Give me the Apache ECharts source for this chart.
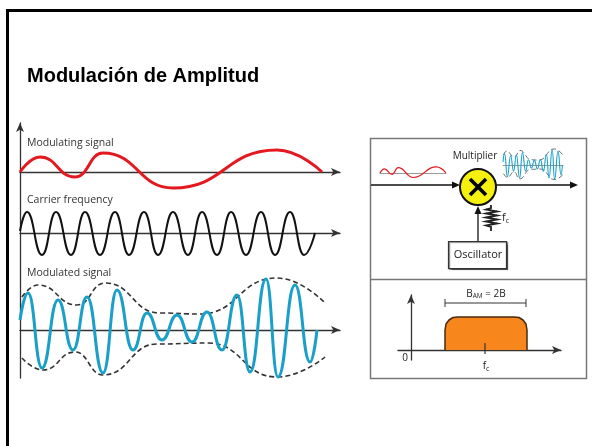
<!DOCTYPE html>
<html>
<head>
<meta charset="utf-8">
<script src="https://cdn.jsdelivr.net/npm/echarts@6/dist/echarts.min.js"></script>
<style>
html, body { margin: 0; background: #fff; }
#chart { width: 592px; height: 446px; }
</style>
</head>
<body>
<div id="chart"></div>
<script>
// señal moduladora: tiempo (px desde el eje) y amplitud
const modT = [0, 20, 55, 83, 153, 257, 302];
const modV = [0, 15, -5, 19, -16, 22, 0];

// portadora: crestas y valles
const carT = [0, 7, 22, 36, 51, 65, 80, 95, 109, 124, 138, 153, 168, 182, 197, 211, 226, 241, 255, 270, 284, 295];
const carV = [2, 21, -22, 21, -22, 21, -22, 21, -22, 21, -22, 21, -22, 21, -22, 21, -22, 21, -22, 21, -22, 0];

// señal modulada
const amT = [0, 8, 22, 38, 53, 67, 83, 97, 113, 127, 142, 157, 172, 187, 202, 217, 230, 246, 258, 275, 290, 297];
const amV = [10, 37, -38, 30, -20, 33, -43, 40, -20, 17, -10, 15, -12, 18, -20, 35, -42, 51, -47, 45, -32, 0];

// envolventes (línea discontinua)
const envUpT = [2, 18, 57, 85, 140, 180, 257, 305];
const envUpV = [33, 45, 25, 47, 17, 16, 52, 27];
const envLoT = [2, 23, 55, 83, 137, 188, 257, 305];
const envLoV = [-28, -40, -22, -45, -14, -13, -47, -27];

// espectro AM (banda alrededor de fc)
const specX = [34, 34, 35, 38, 42, 47, 103, 108, 112, 115, 116, 116];
const specY = [0, 20, 26, 30, 32.5, 33, 33, 32.5, 30, 26, 20, 0];
const fcX = 74;
const bamX = [34, 115];
const bamY = 47;

const pts = (t, v) => t.map((x, i) => [x, v[i]]);

const chart = echarts.init(document.getElementById('chart'));

const axisCol = '#333';
const hiddenY = (min, max, idx) => ({
    gridIndex: idx, type: 'value', min: min, max: max,
    axisLine: { show: false }, axisTick: { show: false },
    axisLabel: { show: false }, splitLine: { show: false }
});
const arrowX = (min, max, idx) => ({
    gridIndex: idx, type: 'value', min: min, max: max,
    axisLine: {
        onZero: true, symbol: ['none', 'arrow'], symbolSize: [6, 9],
        lineStyle: { color: axisCol, width: 1.3 }
    },
    axisTick: { show: false }, axisLabel: { show: false }, splitLine: { show: false }
});
const plainX = (min, max, idx) => ({
    gridIndex: idx, type: 'value', min: min, max: max,
    axisLine: { onZero: true, lineStyle: { color: '#999', width: 1 } },
    axisTick: { show: false }, axisLabel: { show: false }, splitLine: { show: false }
});
const wave = (name, data, idx, color, width, extra) => Object.assign({
    name: name, type: 'line', xAxisIndex: idx, yAxisIndex: idx,
    data: data, showSymbol: false, smooth: 0.5, smoothMonotone: 'x',
    lineStyle: { color: color, width: width }, silent: true
}, extra || {});
const dashed = (data, idx, width) => ({
    type: 'line', xAxisIndex: idx, yAxisIndex: idx, data: data,
    showSymbol: false, smooth: 0.5, smoothMonotone: 'x', silent: true,
    lineStyle: { color: '#333', width: width, type: [5, 3] }
});
const seg = (a, b, idx, w) => ({
    type: 'line', xAxisIndex: idx, yAxisIndex: idx, data: [a, b],
    showSymbol: false, silent: true, lineStyle: { color: '#333', width: w }
});
const arrowHead = (x, y, dir) => {
    let p;
    if (dir === 'right') p = [[x, y], [x - 8, y - 3.5], [x - 8, y + 3.5]];
    else p = [[x, y], [x - 3.5, y + 8], [x + 3.5, y + 8]];
    return { type: 'polygon', shape: { points: p }, style: { fill: '#111' } };
};
const txt = (x, y, text, font, align, extra) => ({
    type: 'text', x: x, y: y,
    style: Object.assign({ text: text, font: font, fill: '#222', align: align || 'left', verticalAlign: 'middle' }, extra || {})
});

const labelFont = '10.5px "Open Sans"';

chart.setOption({
    animation: false,
    grid: [
        { left: 20, top: 123, width: 10, height: 255 },
        { left: 20, top: 147, width: 320, height: 50 },
        { left: 20, top: 208, width: 320, height: 50 },
        { left: 20, top: 275, width: 320, height: 110 },
        { left: 380, top: 166, width: 66, height: 14 },
        { left: 503, top: 148, width: 60, height: 34 },
        { left: 398, top: 295, width: 163, height: 65 }
    ],
    xAxis: [
        { gridIndex: 0, type: 'value', min: 0, max: 1, show: false },
        arrowX(0, 320, 1),
        arrowX(0, 320, 2),
        arrowX(0, 320, 3),
        plainX(0, 302, 4),
        plainX(0, 300, 5),
        arrowX(-13, 150, 6)
    ],
    yAxis: [
        {
            gridIndex: 0, type: 'value', min: 0, max: 1,
            axisLine: {
                onZero: false, symbol: ['none', 'arrow'], symbolSize: [6, 9],
                lineStyle: { color: axisCol, width: 1.3 }
            },
            axisTick: { show: false }, axisLabel: { show: false }, splitLine: { show: false }
        },
        hiddenY(-25, 25, 1),
        hiddenY(-25, 25, 2),
        hiddenY(-55, 55, 3),
        hiddenY(-25, 25, 4),
        hiddenY(-55, 55, 5),
        {
            gridIndex: 6, type: 'value', min: -10, max: 55,
            axisLine: {
                onZero: true, symbol: ['none', 'arrow'], symbolSize: [6, 9],
                lineStyle: { color: axisCol, width: 1.3 }
            },
            axisTick: { show: false }, axisLabel: { show: false }, splitLine: { show: false }
        }
    ],
    series: [
        wave('Modulating signal', pts(modT, modV), 1, '#e3191f', 3),
        wave('Carrier frequency', pts(carT, carV), 2, '#111', 2),
        dashed(pts(envUpT, envUpV), 3, 1.6),
        dashed(pts(envLoT, envLoV), 3, 1.6),
        wave('Modulated signal', pts(amT, amV), 3, '#1aa0c8', 3),
        // versiones pequeñas del diagrama de bloques
        wave('mini mod', pts(modT, modV), 4, '#e3191f', 1.2),
        dashed(pts(envUpT, envUpV), 5, 0.7),
        dashed(pts(envLoT, envLoV), 5, 0.7),
        wave('mini am', pts(amT, amV), 5, '#1aa0c8', 1.1),
        // espectro
        {
            type: 'line', xAxisIndex: 6, yAxisIndex: 6, data: pts(specX, specY),
            showSymbol: false, silent: true,
            lineStyle: { color: '#4a2a0e', width: 1.5 },
            areaStyle: { color: '#f7861c', opacity: 1 }
        },
        seg([fcX, -4], [fcX, 7], 6, 1.2),
        seg([bamX[0], bamY], [bamX[1], bamY], 6, 1),
        seg([bamX[0], bamY - 4], [bamX[0], bamY + 4], 6, 1),
        seg([bamX[1], bamY - 4], [bamX[1], bamY + 4], 6, 1)
    ],
    graphic: [
        // marco de la diapositiva
        { type: 'line', shape: { x1: 7.5, y1: 9, x2: 7.5, y2: 446 }, style: { stroke: '#000', lineWidth: 3 } },
        { type: 'line', shape: { x1: 6, y1: 10.5, x2: 592, y2: 10.5 }, style: { stroke: '#000', lineWidth: 3 } },
        txt(27, 76, 'Modulación de Amplitud', 'bold 20px "Liberation Sans"', 'left', { fill: '#000' }),

        txt(27, 143, 'Modulating signal', labelFont, 'left', { fill: '#333' }),
        txt(27, 200, 'Carrier frequency', labelFont, 'left', { fill: '#333' }),
        txt(27, 273, 'Modulated signal', labelFont, 'left', { fill: '#333' }),

        // caja derecha
        { type: 'rect', shape: { x: 370.5, y: 138.5, width: 216, height: 240 }, style: { fill: 'none', stroke: '#777', lineWidth: 1.5 } },
        { type: 'line', shape: { x1: 370, y1: 279.5, x2: 587, y2: 279.5 }, style: { stroke: '#777', lineWidth: 1.5 } },

        // entrada -> multiplicador -> salida
        { type: 'line', shape: { x1: 371, y1: 185, x2: 454, y2: 185 }, style: { stroke: '#111', lineWidth: 1.3 } },
        arrowHead(460, 185, 'right'),
        { type: 'line', shape: { x1: 496, y1: 185, x2: 572, y2: 185 }, style: { stroke: '#111', lineWidth: 1.3 } },
        arrowHead(578, 185, 'right'),
        { type: 'circle', shape: { cx: 478, cy: 187, r: 18 }, style: { fill: '#f5f00e', stroke: '#111', lineWidth: 2 } },
        { type: 'line', shape: { x1: 470, y1: 179, x2: 486, y2: 195 }, style: { stroke: '#000', lineWidth: 3.5 } },
        { type: 'line', shape: { x1: 486, y1: 179, x2: 470, y2: 195 }, style: { stroke: '#000', lineWidth: 3.5 } },
        txt(475, 156, 'Multiplier', '10px "Open Sans"', 'center'),

        // oscilador
        { type: 'line', shape: { x1: 478, y1: 241, x2: 478, y2: 212 }, style: { stroke: '#111', lineWidth: 1.3 } },
        arrowHead(478, 206, 'up'),
        {
            type: 'polyline',
            shape: { points: [[491, 205], [491, 208], [486, 209.5], [497, 211.5], [486, 213.5], [497, 215.5], [486, 217.5], [497, 219.5], [486, 221.5], [497, 223.5], [486, 225.5], [491, 227], [491, 231]] },
            style: { stroke: '#222', lineWidth: 1.8, fill: 'none' }
        },
        {
            type: 'text', x: 502, y: 218,
            style: {
                text: '{a|f}{b|c}', verticalAlign: 'middle',
                rich: { a: { font: '11px "Open Sans"', fill: '#222' }, b: { font: '7px "Open Sans"', fill: '#222', padding: [6, 0, 0, 0] } }
            }
        },
        {
            type: 'rect', shape: { x: 448.5, y: 241.5, width: 58, height: 27 },
            style: { fill: '#fff', stroke: '#333', lineWidth: 1.2, shadowColor: 'rgba(0,0,0,0.5)', shadowBlur: 1, shadowOffsetX: 1, shadowOffsetY: 1 }
        },
        txt(478, 255, 'Oscillator', '11px "Open Sans"', 'center'),

        // textos del espectro
        txt(405, 358, '0', '10px "Open Sans"', 'center'),
        {
            type: 'text', x: 486, y: 366,
            style: {
                text: '{a|f}{b|c}', align: 'center', verticalAlign: 'middle',
                rich: { a: { font: '10px "Open Sans"', fill: '#222' }, b: { font: '7px "Open Sans"', fill: '#222', padding: [6, 0, 0, 0] } }
            }
        },
        {
            type: 'text', x: 486, y: 294,
            style: {
                text: '{a|B}{b|AM}{a| = 2B}', align: 'center', verticalAlign: 'middle',
                rich: { a: { font: '10px "Open Sans"', fill: '#222' }, b: { font: '6.5px "Open Sans"', fill: '#222', padding: [5, 0, 0, 0] } }
            }
        }
    ]
});
</script>
</body>
</html>
